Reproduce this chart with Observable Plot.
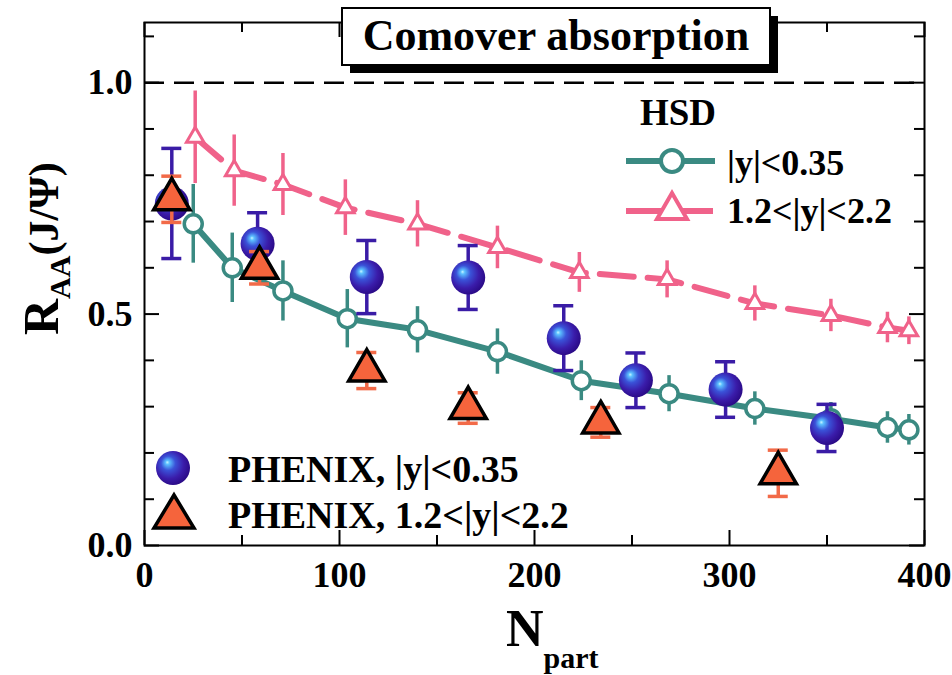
<!DOCTYPE html>
<html><head><meta charset="utf-8">
<script src="https://cdn.jsdelivr.net/npm/d3@7"></script>
<script src="https://cdn.jsdelivr.net/npm/@observablehq/plot@0.6"></script>
<style>
body{margin:0;background:#fff}
#chart{position:relative;width:952px;height:675px}
</style>
</head><body><div id="chart"></div>
<script>
// ---- data ----
const hsdMidN   = [25, 45, 71, 104, 140, 181, 224, 269, 313, 352, 381, 392];
const hsdMidR   = [0.695, 0.600, 0.550, 0.490, 0.466, 0.419, 0.356, 0.328, 0.296, 0.274, 0.255, 0.250];
const hsdMidErr = [0.085, 0.075, 0.065, 0.063, 0.050, 0.049, 0.043, 0.039, 0.036, 0.035, 0.034, 0.033];

const hsdFwdN   = [26, 46, 71, 103, 140, 181, 223, 268, 313, 352, 381, 392];
const hsdFwdR   = [0.882, 0.810, 0.780, 0.730, 0.695, 0.644, 0.590, 0.575, 0.523, 0.497, 0.471, 0.464];
const hsdFwdErr = [0.100, 0.077, 0.067, 0.060, 0.050, 0.046, 0.043, 0.040, 0.038, 0.035, 0.033, 0.030];

const phxMidN   = [14, 58, 114, 166, 215, 252, 298, 350];
const phxMidR   = [0.739, 0.652, 0.580, 0.579, 0.448, 0.357, 0.337, 0.254];
const phxMidErr = [0.119, 0.067, 0.079, 0.069, 0.070, 0.059, 0.060, 0.051];

const phxFwdN   = [14, 59, 114, 166, 234, 325];
const phxFwdR   = [0.748, 0.600, 0.378, 0.297, 0.266, 0.156];
const phxFwdErr = [0.050, 0.035, 0.039, 0.033, 0.032, 0.050];

const xMajor = [0, 100, 200, 300, 400];
const xMinor = [50, 150, 250, 350];
const yMajor = [0, 0.5, 1.0];
const yMinor = [0.1, 0.2, 0.3, 0.4, 0.6, 0.7, 0.8, 0.9, 1.1];

// ---- styling ----
const TEAL = "#3a8a82", PINK = "#f0628a", BLUE = "#3a1ca6", ORANGE = "#f5643c", ORBAR = "#f26a48";
const FONT = "Liberation Serif, Times New Roman, serif";
const W = 952, H = 675, mL = 144, mT = 22, mR = 28, mB = 130;
const pw = W - mL - mR, ph = H - mT - mB;

const rows = (N, R, E) => N.map((n, i) => ({n, r: R[i], lo: R[i] - E[i], hi: R[i] + E[i]}));
const hsdMid = rows(hsdMidN, hsdMidR, hsdMidErr);
const hsdFwd = rows(hsdFwdN, hsdFwdR, hsdFwdErr);
const phxMid = rows(phxMidN, phxMidR, phxMidErr);
const phxFwd = rows(phxFwdN, phxFwdR, phxFwdErr);

const chart = Plot.plot({
  width: W, height: H,
  marginLeft: mL, marginTop: mT, marginRight: mR, marginBottom: mB,
  style: {fontFamily: FONT, background: "white", color: "black", overflow: "visible"},
  x: {domain: [0, 400], axis: null},
  y: {domain: [0, 1.13], axis: null},
  marks: [
    Plot.ruleY([1], {stroke: "black", strokeWidth: 2.5, strokeDasharray: "20,10"}),
    // HSD mid-rapidity
    Plot.ruleX(hsdMid, {x: "n", y1: "lo", y2: "hi", stroke: TEAL, strokeWidth: 3.5}),
    Plot.line(hsdMid, {x: "n", y: "r", stroke: TEAL, strokeWidth: 6}),
    Plot.dot(hsdMid, {x: "n", y: "r", r: 9, fill: "white", stroke: TEAL, strokeWidth: 3.5}),
    // HSD forward
    Plot.ruleX(hsdFwd, {x: "n", y1: "lo", y2: "hi", stroke: PINK, strokeWidth: 3.5}),
    Plot.line(hsdFwd, {x: "n", y: "r", stroke: PINK, strokeWidth: 6, strokeDasharray: "34,14"}),
    Plot.dot(hsdFwd, {x: "n", y: "r", symbol: "triangle", r: 6.5, fill: "white", stroke: PINK, strokeWidth: 3}),
    // PHENIX mid
    Plot.ruleX(phxMid, {x: "n", y1: "lo", y2: "hi", stroke: BLUE, strokeWidth: 3.5}),
    Plot.ruleY(phxMid, {y: "hi", x1: "n", x2: "n", insetLeft: -10, insetRight: -10, stroke: BLUE, strokeWidth: 3.5}),
    Plot.ruleY(phxMid, {y: "lo", x1: "n", x2: "n", insetLeft: -10, insetRight: -10, stroke: BLUE, strokeWidth: 3.5}),
    Plot.dot(phxMid, {x: "n", y: "r", r: 17, fill: "url(#phxBall)"}),
    // PHENIX forward
    Plot.ruleX(phxFwd, {x: "n", y1: "lo", y2: "hi", stroke: ORBAR, strokeWidth: 3.5}),
    Plot.ruleY(phxFwd, {y: "hi", x1: "n", x2: "n", insetLeft: -10, insetRight: -10, stroke: ORBAR, strokeWidth: 3.5}),
    Plot.ruleY(phxFwd, {y: "lo", x1: "n", x2: "n", insetLeft: -10, insetRight: -10, stroke: ORBAR, strokeWidth: 3.5}),
    Plot.dot(phxFwd, {x: "n", y: "r", symbol: "triangle", r: 13.5, fill: ORANGE, stroke: "black", strokeWidth: 3.5, strokeLinejoin: "miter"}),
    // frame & inward ticks
    Plot.frame({stroke: "black", strokeWidth: 2}),
    Plot.tickX(xMajor, {x: d => d, insetTop: ph - 15, stroke: "black", strokeWidth: 2}),
    Plot.tickX(xMinor, {x: d => d, insetTop: ph - 10, stroke: "black", strokeWidth: 2}),
    Plot.tickX(xMajor, {x: d => d, insetBottom: ph - 15, stroke: "black", strokeWidth: 2}),
    Plot.tickX(xMinor, {x: d => d, insetBottom: ph - 10, stroke: "black", strokeWidth: 2}),
    Plot.tickY(yMajor, {y: d => d, insetRight: pw - 15, stroke: "black", strokeWidth: 2}),
    Plot.tickY(yMinor, {y: d => d, insetRight: pw - 10, stroke: "black", strokeWidth: 2}),
    Plot.tickY(yMajor, {y: d => d, insetLeft: pw - 15, stroke: "black", strokeWidth: 2}),
    Plot.tickY(yMinor, {y: d => d, insetLeft: pw - 10, stroke: "black", strokeWidth: 2}),
    // tick labels
    Plot.axisX({ticks: xMajor, tickSize: 0, tickPadding: 16, tickFormat: d3.format("d"), label: null,
      fontSize: 36, fontWeight: "bold", fontFamily: FONT}),
    Plot.axisY({ticks: yMajor, tickSize: 0, tickPadding: 12, tickFormat: d3.format(".1f"), label: null,
      fontSize: 36, fontWeight: "bold", fontFamily: FONT})
  ]
});

document.getElementById("chart").appendChild(chart);
const svg = d3.select(chart);

// gradient for PHENIX balls
const defs = svg.insert("defs", ":first-child");
const g = defs.append("radialGradient").attr("id", "phxBall")
  .attr("cx", "0.42").attr("cy", "0.42").attr("r", "0.6").attr("fx", "0.33").attr("fy", "0.33");
[["0", "#c8f4ff"], ["0.1", "#5cc0ff"], ["0.35", "#3a52d8"], ["0.7", "#3a1caa"], ["1", "#2a0a86"]]
  .forEach(([o, c]) => g.append("stop").attr("offset", o).attr("stop-color", c));

const ov = svg.append("g").attr("font-family", FONT).attr("font-weight", "bold")
  .attr("fill", "black").attr("text-anchor", "start");

// title box with shadow
ov.append("rect").attr("x", 350).attr("y", 16).attr("width", 428).attr("height", 57).attr("fill", "black");
ov.append("rect").attr("x", 342).attr("y", 8).attr("width", 428).attr("height", 57)
  .attr("fill", "white").attr("stroke", "black").attr("stroke-width", 2);
ov.append("text").attr("x", 556).attr("y", 50).attr("text-anchor", "middle")
  .attr("font-size", 44).text("Comover absorption");

// HSD legend
ov.append("text").attr("x", 640).attr("y", 125).attr("font-size", 37).text("HSD");
ov.append("line").attr("x1", 626).attr("x2", 715).attr("y1", 161).attr("y2", 161)
  .attr("stroke", TEAL).attr("stroke-width", 6);
ov.append("circle").attr("cx", 672).attr("cy", 161).attr("r", 11)
  .attr("fill", "white").attr("stroke", TEAL).attr("stroke-width", 4);
ov.append("text").attr("x", 727).attr("y", 175).attr("font-size", 36).text("|y|<0.35");
ov.append("line").attr("x1", 626).attr("x2", 713).attr("y1", 211).attr("y2", 211)
  .attr("stroke", PINK).attr("stroke-width", 6);
ov.append("path").attr("d", "M672,193 L687,219 L657,219 Z")
  .attr("fill", "white").attr("stroke", PINK).attr("stroke-width", 4).attr("stroke-linejoin", "miter");
ov.append("text").attr("x", 727).attr("y", 223).attr("font-size", 36).text("1.2<|y|<2.2");

// PHENIX legend
ov.append("circle").attr("cx", 173).attr("cy", 468).attr("r", 17).attr("fill", "url(#phxBall)");
ov.append("text").attr("x", 228).attr("y", 482).attr("font-size", 38).text("PHENIX, |y|<0.35");
ov.append("path").attr("d", "M174,495 L194,528 L154,528 Z")
  .attr("fill", ORANGE).attr("stroke", "black").attr("stroke-width", 3.5).attr("stroke-linejoin", "miter");
ov.append("text").attr("x", 228).attr("y", 528).attr("font-size", 38).text("PHENIX, 1.2<|y|<2.2");

// axis titles
const yl = ov.append("text").attr("transform", "translate(58,335) rotate(-90)").attr("text-anchor", "start");
yl.append("tspan").attr("font-size", 50).text("R");
yl.append("tspan").attr("font-size", 30).attr("dy", 12).text("AA");
yl.append("tspan").attr("font-size", 42).attr("dy", -12).text("(J/\u03A8)");

const xl = ov.append("text").attr("x", 506).attr("y", 646).attr("text-anchor", "start");
xl.append("tspan").attr("font-size", 52).text("N");
xl.append("tspan").attr("font-size", 30).attr("dy", 22).text("part");
</script>
</body></html>
